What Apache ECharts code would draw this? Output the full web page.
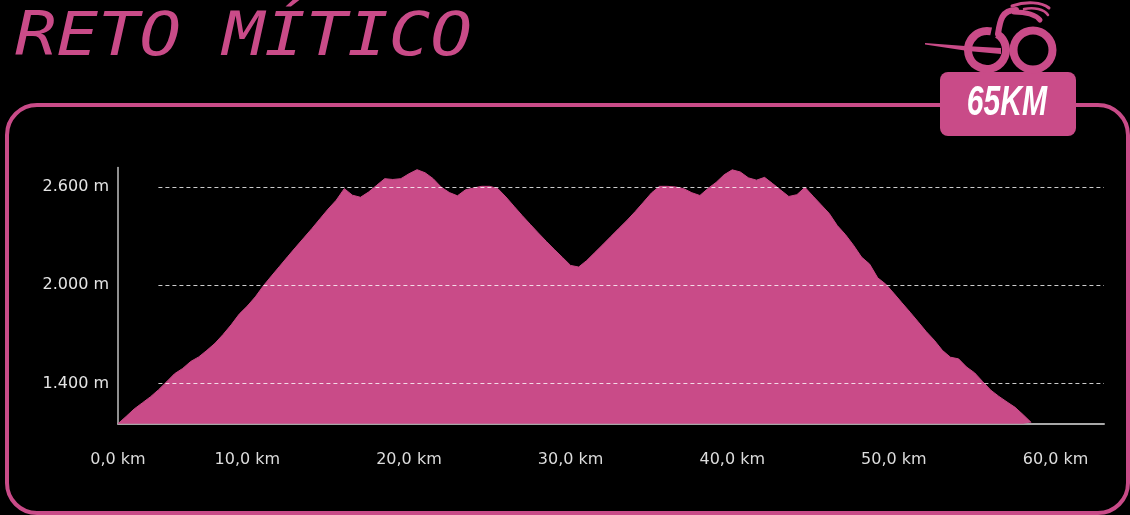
<!DOCTYPE html>
<html>
<head>
<meta charset="utf-8">
<script src="https://cdn.jsdelivr.net/npm/echarts@6/dist/echarts.min.js"></script>
<style>
html,body{margin:0;padding:0;background:#000;}
#chart{width:1130px;height:515px;}
</style>
</head>
<body>
<div id="chart"></div>
<script>
// ---- data ----
var titleText = 'RETO MÍTICO';
var badgeText = '65KM';
// distance of each profile sample (km)
var distances = [
  0, 0.625, 1.25, 1.875, 2.5, 3.125, 3.75, 4.375, 5, 5.625, 6.25, 6.875, 7.5, 8.125, 8.75, 9.375, 10,
  10.5, 11, 11.5, 12, 12.5, 13, 13.5, 14, 14.5, 15, 15.5, 16, 16.5, 17, 17.5, 18, 18.5, 19, 19.5, 20,
  20.5, 21, 21.5, 22, 22.5, 23, 23.5, 24, 24.5, 25, 25.5, 26, 26.5, 27, 27.5, 28, 28.5, 29, 29.5, 30,
  30.5, 31, 31.5, 32, 32.5, 33, 33.5, 34, 34.5, 35, 35.5, 36, 36.5, 37, 37.5, 38, 38.5, 39, 39.5, 40,
  40.5, 41, 41.5, 42, 42.5, 43, 43.5, 44, 44.5, 45, 45.5, 46, 46.5, 47, 47.5, 48, 48.5, 49, 49.5, 50,
  50.5, 51, 51.5, 52, 52.5, 53, 53.5, 54, 54.5, 55, 55.5, 56, 56.5, 57, 57.5, 58, 58.5, 59, 59.5, 60,
  60.5, 61, 61.5, 62, 62.5, 63
];
// elevation (m) at each sample
var elevations = [
  1153, 1197, 1243, 1280, 1317, 1360, 1409, 1459, 1491, 1534, 1562, 1602, 1645, 1699, 1758, 1824, 1873,
  1930, 1998, 2058, 2117, 2176, 2234, 2291, 2348, 2408, 2467, 2521, 2592, 2552, 2539, 2571, 2612, 2653, 2648, 2653,
  2683, 2708, 2689, 2653, 2601, 2568, 2548, 2585, 2596, 2606, 2606, 2592, 2541, 2484, 2428, 2374, 2321, 2269,
  2219, 2171, 2122, 2112, 2152, 2201, 2250, 2300, 2350, 2399, 2452, 2508, 2565, 2606, 2606, 2602, 2592, 2567,
  2550, 2593, 2630, 2677, 2707, 2694, 2658, 2644, 2661, 2623, 2583, 2544, 2555, 2600, 2546, 2493, 2440, 2366,
  2311, 2246, 2173, 2130, 2046, 2007, 1951, 1893, 1836, 1777, 1717, 1664, 1602, 1560, 1550, 1500, 1464, 1410,
  1358, 1320, 1286, 1253, 1208, 1160,
  null, null, null, null, null, null, null, null, null
];
var xTickKm = [0, 10, 20, 30, 40, 50, 60];
var xTickLabels = ['0,0 km', '10,0 km', '20,0 km', '30,0 km', '40,0 km', '50,0 km', '60,0 km'];
var yTicks = [1400, 2000, 2600];
var yTickLabels = ['1.400 m', '2.000 m', '2.600 m'];
var yMin = 1153, yMax = 2722;

// ---- style ----
var PINK = '#c94b88';
var chart = echarts.init(document.getElementById('chart'), null, {renderer: 'canvas'});

var gridLineData = yTicks.map(function (v) {
  return [{coord: [5, v]}, {coord: [distances.length - 1, v]}];
});

var option = {
  backgroundColor: '#000',
  animation: false,
  grid: {left: 118, right: 26, top: 167.4, bottom: 91.3},
  xAxis: {
    type: 'category',
    boundaryGap: false,
    data: distances.map(String),
    axisLine: {show: true, lineStyle: {color: '#a8a8a8', width: 2}},
    axisTick: {show: false},
    splitLine: {show: false},
    axisLabel: {
      interval: function (idx, val) { return xTickKm.indexOf(Number(val)) >= 0; },
      formatter: function (val) { return xTickLabels[xTickKm.indexOf(Number(val))]; },
      color: '#dcdcdc',
      fontFamily: '"DejaVu Sans"',
      fontSize: 16,
      margin: 28
    }
  },
  yAxis: {
    type: 'value',
    min: yMin,
    max: yMax,
    axisLine: {show: true, lineStyle: {color: '#c0c0c0', width: 1.5}},
    axisTick: {show: false},
    splitLine: {show: false},
    axisLabel: {
      customValues: yTicks,
      formatter: function (v) { return yTickLabels[yTicks.indexOf(v)]; },
      color: '#e4e4e4',
      fontFamily: '"DejaVu Sans"',
      fontSize: 16,
      margin: 9
    }
  },
  series: [{
    type: 'line',
    data: elevations,
    symbol: 'none',
    smooth: false,
    connectNulls: false,
    lineStyle: {color: PINK, width: 1},
    areaStyle: {color: PINK, opacity: 1},
    markLine: {
      silent: true,
      symbol: ['none', 'none'],
      label: {show: false},
      lineStyle: {color: 'rgba(255,255,255,0.8)', type: [4, 3], width: 1},
      data: gridLineData
    }
  }],
  graphic: [
    {
      type: 'rect',
      shape: {x: 7, y: 105, width: 1121, height: 408, r: 30},
      style: {fill: 'none', stroke: PINK, lineWidth: 4},
      z: 1
    },
    {
      type: 'text',
      x: 15, y: 39.5,
      scaleX: 1.15,
      style: {
        text: titleText,
        fontFamily: '"DejaVu Sans Mono"',
        fontStyle: 'italic',
        fontSize: 60,
        fill: PINK,
        align: 'left',
        verticalAlign: 'middle'
      },
      z: 5
    },
    {
      type: 'rect',
      shape: {x: 940, y: 72, width: 136, height: 64, r: 8},
      style: {fill: PINK},
      z: 10
    },
    {
      type: 'text',
      x: 1007, y: 103,
      scaleX: 0.7,
      style: {
        text: badgeText,
        fontFamily: '"Liberation Sans"',
        fontWeight: 'bold',
        fontStyle: 'italic',
        fontSize: 43,
        fill: '#fff',
        align: 'center',
        verticalAlign: 'middle'
      },
      z: 11
    },
    {type: 'arc', shape: {cx: 987, cy: 50, r: 19, startAngle: -1.0, endAngle: -1.35, clockwise: true}, style: {fill: 'none', stroke: PINK, lineWidth: 8}, z: 10},
    {type: 'ring', shape: {cx: 1033, cy: 50, r: 23.5, r0: 15.5}, style: {fill: PINK}, z: 10},
    {
      type: 'polygon',
      shape: {points: [[925, 43], [965, 46], [1001, 48], [1001, 54], [968, 51], [925, 44.5]]},
      style: {fill: PINK},
      z: 10
    },
    {
      type: 'bezierCurve',
      shape: {x1: 998, y1: 34, cpx1: 1000, cpy1: 20, cpx2: 1002, cpy2: 10, x2: 1016, y2: 10},
      style: {fill: 'none', stroke: PINK, lineWidth: 6, lineCap: 'round'},
      z: 10
    },
    {
      type: 'bezierCurve',
      shape: {x1: 1014, y1: 12, cpx1: 1024, cpy1: 12, cpx2: 1034, cpy2: 13, x2: 1040, y2: 20},
      style: {fill: 'none', stroke: PINK, lineWidth: 5, lineCap: 'round'},
      z: 10
    },
    {
      type: 'bezierCurve',
      shape: {x1: 1012, y1: 6, cpx1: 1026, cpy1: 1, cpx2: 1042, cpy2: 2, x2: 1049, y2: 8},
      style: {fill: 'none', stroke: PINK, lineWidth: 3, lineCap: 'round'},
      z: 10
    },
    {
      type: 'bezierCurve',
      shape: {x1: 1024, y1: 9, cpx1: 1034, cpy1: 7, cpx2: 1044, cpy2: 9, x2: 1048, y2: 15},
      style: {fill: 'none', stroke: PINK, lineWidth: 2.5, lineCap: 'round'},
      z: 10
    }
  ]
};
chart.setOption(option);
</script>
</body>
</html>
